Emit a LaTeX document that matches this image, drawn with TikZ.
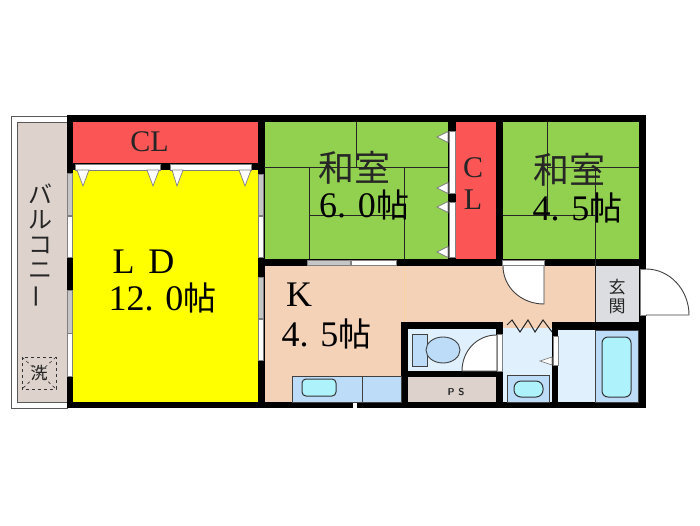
\documentclass[tikz,border=0pt]{standalone}
\usepackage{fontspec}
\usepackage{xcolor}
\setmainfont{Liberation Serif}
\newfontfamily\cjk{Noto Sans CJK JP}
\definecolor{ldyellow}{HTML}{FFFF00}
\definecolor{clred}{HTML}{FB5555}
\definecolor{tatami}{HTML}{92D050}
\definecolor{floorwood}{HTML}{F4D2B8}
\definecolor{entry}{HTML}{DCDDE0}
\definecolor{wetfloor}{HTML}{E0F0FC}
\definecolor{fixture}{HTML}{BCDCF8}
\definecolor{water}{HTML}{AEF3FC}
\definecolor{balcony}{HTML}{DDD3CC}
\newcommand{\bigsize}{\fontsize{36}{36}\selectfont}
\newcommand{\tsubo}{{\cjk\fontsize{33}{33}\selectfont 帖}}

\begin{document}
\begin{tikzpicture}[x=1pt, y=-1pt, node distance = 25.5pt]
	\tikzstyle{room} = [inner sep=0pt, text=black, font=\bigsize]
	\tikzstyle{jptext} = [inner sep=0pt, text=black!85, font=\cjk\fontsize{36}{36}\selectfont]
	\tikzstyle{kana} = [inner sep=0pt, text=black!85, font=\cjk\fontsize{24}{24}\selectfont]
	\tikzstyle{closet} = [inner sep=0pt, text=black!85, font=\fontsize{30}{30}\selectfont]
	\tikzstyle{frame} = [draw=black!65, line width=.9pt]
	\tikzstyle{matline} = [draw=black!85, line width=.9pt]
	\tikzstyle{paneA} = [draw=gray, fill=gray!45, line width=.7pt]
	\tikzstyle{paneB} = [draw=gray, fill=white, line width=.7pt]
	\tikzstyle{fitting} = [draw=black!75, line width=.9pt, fill=fixture]
	\tikzstyle{basin} = [draw=black!80, line width=1pt, fill=water, rounded corners=4pt]
	\tikzstyle{leaf} = [draw=black!75, line width=.9pt, fill=white]
	\useasboundingbox (0,0) rectangle (700,525);
	% Balcony and walls
	\draw [frame, fill=white] (11,116) rectangle (67,408);
	\draw [frame, fill=balcony] (17.5,122) rectangle (67,402);
	\fill [black] (67,115) rectangle (646,408);
	% Rooms
	\fill [ldyellow] (73,170) rectangle (257.5,402);
	\fill [clred] (73,122) rectangle (257.5,163);
	\fill [clred] (456,122) rectangle (496,259);
	\fill [tatami] (264.5,122) rectangle (448,259);
	\fill [tatami] (503,122) rectangle (639,259);
	\fill [floorwood] (264.5,266) rectangle (401,402);
	\fill [floorwood] (401,266) rectangle (596,322);
	\fill [floorwood] (503,322) rectangle (552,328);
	\fill [entry] (596,266) rectangle (639,322);
	\fill [wetfloor] (408,329) rectangle (496,371);
	\fill [wetfloor] (503,328) rectangle (552,402);
	\fill [wetfloor] (558,330) rectangle (595,402);
	\fill [balcony] (408,377) rectangle (496,402);
	% Tatami lines
	\draw [matline] (264,167) -- (448,167);
	\draw [matline] (356,122) -- (356,167);
	\draw [matline] (309,167) -- (309,259);
	\draw [matline] (404,167) -- (404,259);
	\draw [matline] (309,215) -- (404,215);
	\draw [matline] (547,122) -- (547,215);
	\draw [matline] (547,167) -- (639,167);
	\draw [matline] (503,215) -- (595,215);
	\draw [matline] (595,167) -- (595,322);
	\draw [draw=orange!35, line width=.7pt] (404,266) -- (404,322);
	% Windows and sliding doors
	\draw [paneA] (67.5,173) rectangle (72.5,215);
	\draw [paneB] (67.5,216) rectangle (72.5,257);
	\draw [paneA] (67.5,290) rectangle (72.5,333);
	\draw [paneB] (67.5,333) rectangle (72.5,376);
	\draw [paneA] (258,174) rectangle (263.5,215);
	\draw [paneB] (258,216) rectangle (263.5,257);
	\draw [paneA] (258,277) rectangle (263.5,318);
	\draw [paneB] (258,319) rectangle (263.5,360);
	\draw [paneA] (307,260) rectangle (350,265.5);
	\draw [paneB] (351,260) rectangle (396,265.5);
	\draw [paneB] (75,164) rectangle (160,170);
	\draw [paneB] (170,164) rectangle (251,170);
	\draw [paneB] (449,131) rectangle (455,193);
	\draw [paneB] (449,202) rectangle (455,257);
	\draw [paneB] (553,336) rectangle (558,365);
	\draw [paneB] (497,334) rectangle (502,371);
	\fill [white] (352.5,403) rectangle (356.5,408);
	% Door marks
	\draw [paneB] (77,170) -- (83,186) -- (89,170) -- cycle;
	\draw [paneB] (147,170) -- (153,186) -- (159,170) -- cycle;
	\draw [paneB] (172,170) -- (177,186) -- (183,170) -- cycle;
	\draw [paneB] (239,170) -- (245,186) -- (251,170) -- cycle;
	\draw [paneB] (448,131.5) -- (437,137) -- (448,142.5) -- cycle;
	\draw [paneB] (448,182.5) -- (437,188) -- (448,193.5) -- cycle;
	\draw [paneB] (448,201.5) -- (437,207) -- (448,212.5) -- cycle;
	\draw [paneB] (448,246.5) -- (437,252) -- (448,257.5) -- cycle;
	\draw [paneB] (552,357) -- (540,361) -- (552,365) -- cycle;
	% Swing doors
	\draw [paneB] (502,260) rectangle (544,265.5);
	\draw [leaf] (503,266) .. controls (503,287) and (521,304) .. (544,304) -- (544,266);
	\draw [paneB] (640,269) rectangle (646,315);
	\draw [leaf] (646,269) .. controls (670,269) and (689,290) .. (689,315) -- (646,315);
	\draw [leaf] (496.5,335) .. controls (477,335) and (462,351) .. (462,371) -- (496.5,371);
	% Curtain
	\draw [draw=black!85, line width=1pt] (507,325) -- (512,320) -- (520,332) -- (528,320) -- (535,332) -- (543,320) -- (552,332);
	% Fittings
	\draw [fitting] (292,376) rectangle (401,402);
	\draw [fitting] (362,376) -- (362,402);
	\draw [basin] (302,379) rectangle (336,396);
	\draw [fitting] (412,334) rectangle (427,366);
	\draw [fitting] (443,350) ellipse [x radius=17, y radius=13];
	\draw [fitting] (507,375) rectangle (549,402);
	\draw [basin, rounded corners=7pt] (514,381) rectangle (543,397);
	\draw [fitting] (595,330) rectangle (638,402);
	\draw [basin, rounded corners=6pt] (602,337) rectangle (631,397);
	% Laundry place
	\draw [black!80, dashed, line width=.8pt] (22,357) rectangle (56,389);
	\draw [black!80, dashed, line width=.6pt] (22,357) -- (56,389);
	\draw [black!80, dashed, line width=.6pt] (56,357) -- (22,389);
	% Place labels
	\node [kana, font=\cjk\fontsize{17}{17}\selectfont] (wash) at (39,373) {洗};
	\node [kana] (ba) at (40,194) {バ};
	\node [kana, below of=ba] (ru) {ル};
	\node [kana, below of=ru] (ko) {コ};
	\node [kana, below of=ko] (ni) {ニ};
	\node [kana, below of=ni, rotate=90] (bar) {ー};
	\node [closet] (clone) at (149.5,142) {CL};
	\node [closet] (cltwoC) at (473,168) {C};
	\node [closet, below of=cltwoC, node distance=32pt] (cltwoL) {L};
	\node [room] (ld) at (143.5,262) {L\hspace{14pt}D};
	\node [room] (ldsize) at (162.5,298) {12.\,\,0\tsubo};
	\node [jptext] (washitsu) at (354,168) {和室};
	\node [room] (washitsusize) at (364,205) {6.\,\,0\tsubo};
	\node [jptext] (washitsub) at (569,170) {和室};
	\node [room] (washitsubsize) at (577.5,208) {4.\,\,5\tsubo};
	\node [room] (kitchen) at (299,295) {K};
	\node [room] (kitchensize) at (326.5,334) {4.\,\,5\tsubo};
	\node [kana, font=\cjk\fontsize{17}{17}\selectfont] (gen) at (617,287) {玄};
	\node [kana, font=\cjk\fontsize{17}{17}\selectfont, below of=gen, node distance=19pt] (kan) {関};
	\node [inner sep=0pt, text=black!85, font=\sffamily\bfseries\fontsize{10}{10}\selectfont] (ps) at (456,392) {P S};
\end{tikzpicture}
\end{document}
